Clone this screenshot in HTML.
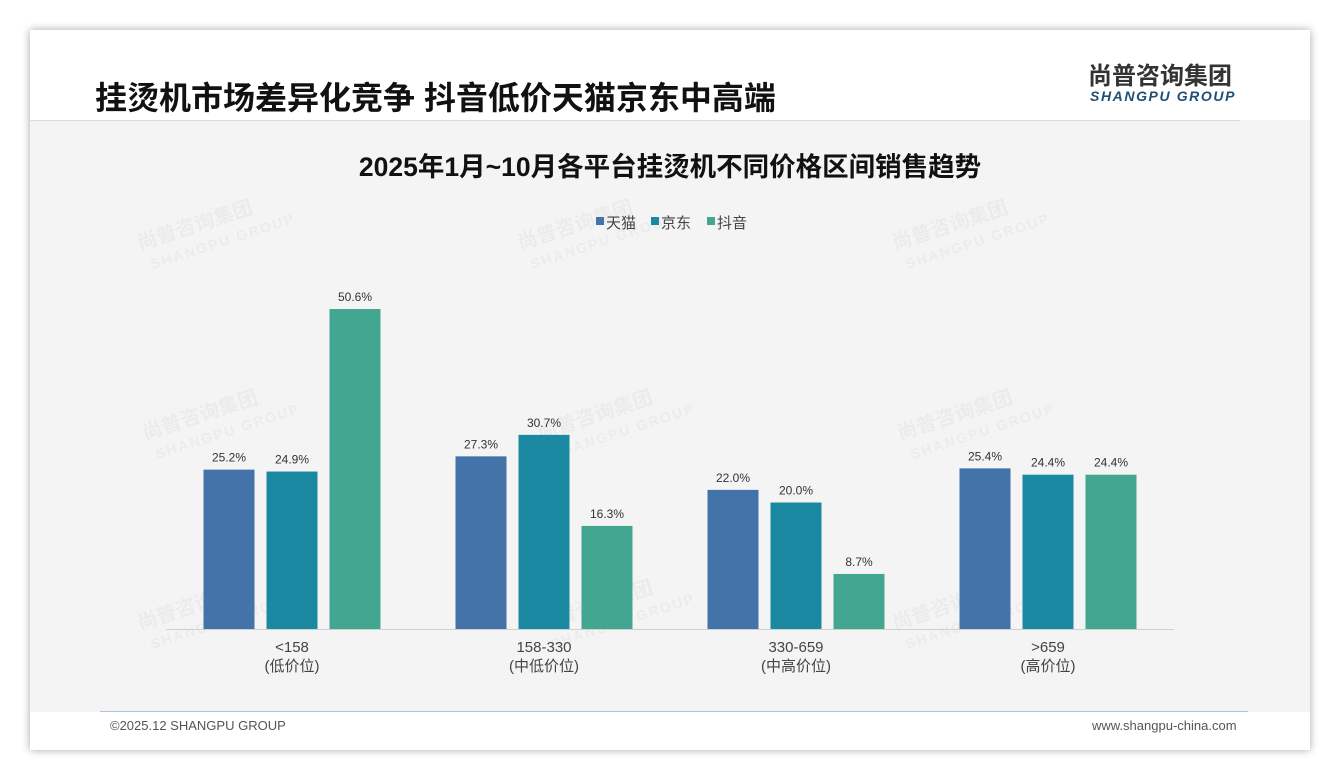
<!DOCTYPE html>
<html><head><meta charset="utf-8">
<style>
body{margin:0;width:1340px;height:780px;background:#fff;font-family:"Liberation Sans","Noto Sans CJK SC",sans-serif;overflow:hidden;position:relative}
.card{position:absolute;left:30px;top:30px;width:1280px;height:720px;background:#fff;box-shadow:0 0 8px rgba(0,0,0,.35)}
.body{position:absolute;left:30px;top:120px;width:1280px;height:592px;background:#f4f4f4}
.title{position:absolute;left:95px;top:78px;font-size:32px;font-weight:bold;color:#111;line-height:40px;white-space:nowrap}
.logo1{position:absolute;left:1088px;top:63px;font-size:24px;font-weight:bold;color:#333;line-height:28px;white-space:nowrap}
.logo2{position:absolute;left:1090px;top:88px;font-size:14px;font-weight:bold;font-style:italic;color:#1e4f78;letter-spacing:1.6px;line-height:16px;white-space:nowrap}
.hline{position:absolute;left:30px;top:120px;width:1210px;height:1px;background:#ddd}
.fline{position:absolute;left:100px;top:711px;width:1148px;height:1px;background:#a9c4dc}
.foot{position:absolute;top:718px;font-size:13px;color:#555}
</style></head><body>
<div class="card"></div>
<div class="body"></div>
<div class="title">挂烫机市场差异化竞争 抖音低价天猫京东中高端</div>
<div class="logo1">尚普咨询集团</div>
<div class="logo2">SHANGPU GROUP</div>
<div class="hline"></div>
<div class="fline"></div>
<div class="foot" style="left:110px">©2025.12 SHANGPU GROUP</div>
<div class="foot" style="left:1092px">www.shangpu-china.com</div>
<svg id="c" width="1340" height="780" style="position:absolute;left:0;top:0"></svg>
<script>
const categories=["<158","158-330","330-659",">659"];
const subLabels=["(低价位)","(中低价位)","(中高价位)","(高价位)"];
const seriesNames=["天猫","京东","抖音"];
const tmall=[25.2,27.3,22.0,25.4];
const jd=[24.9,30.7,20.0,24.4];
const douyin=[50.6,16.3,8.7,24.4];
const colors=["#4373a8","#1a89a1","#42a691"];
const series=[tmall,jd,douyin];
const svg=document.getElementById('c');
const NS="http://www.w3.org/2000/svg";
function mk(t,a,txt){const e=document.createElementNS(NS,t);for(const k in a)e.setAttribute(k,a[k]);if(txt!==undefined)e.textContent=txt;svg.appendChild(e);return e;}
const base=629,left=166,step=252,scale=320/50.6;
const y=v=>base-v*scale;
const xc=i=>left+step*(i+0.5);
let t=mk('text',{x:670,y:176,'text-anchor':'middle','font-size':26.5,'font-weight':'bold',fill:'#111'},'2025年1月~10月各平台挂烫机不同价格区间销售趋势');


[[140,250],[520,250],[895,250],[145,440],[540,440],[900,440],[140,630],[540,630],[895,630]].forEach(p=>{
 const w=mk('text',{x:p[0],y:p[1],transform:`rotate(-18 ${p[0]} ${p[1]})`,'font-size':20,'font-weight':'bold',fill:'#000','fill-opacity':0.035},'尚普咨询集团');
 
 
 const w2=mk('text',{x:p[0]+6,y:p[1]+22,transform:`rotate(-18 ${p[0]} ${p[1]})`,'font-size':14,'font-weight':'bold','letter-spacing':2,fill:'#000','fill-opacity':0.035},'SHANGPU GROUP');
 
 
});
const lx=[596,651,707];
seriesNames.forEach((n,i)=>{
 const r=mk('rect',{x:lx[i],y:217,width:8,height:8,fill:colors[i]});
 
 
 const tx=mk('text',{x:lx[i]+10,y:228,'font-size':15,fill:'#444'},n);
 
 
});
const ax=mk('line',{x1:left,x2:left+step*4,y1:base+0.5,y2:base+0.5,stroke:'#d0d0d0'});


categories.forEach((c,i)=>{
 series.forEach((s,j)=>{
  const x=xc(i)-88.5+j*63;
  const b=mk('rect',{x:x,y:y(s[i]),width:51,height:base-y(s[i]),fill:colors[j]});
  
  
  const l=mk('text',{x:x+25.5,y:y(s[i])-8,'text-anchor':'middle','font-size':12,fill:'#333'},s[i].toFixed(1)+'%');
  
  
 });
 const a=mk('text',{x:xc(i),y:652,'text-anchor':'middle','font-size':15,fill:'#444'},c);
 
 
 const b2=mk('text',{x:xc(i),y:671,'text-anchor':'middle','font-size':15,fill:'#444'},subLabels[i]);
 
 
});
</script>
</body></html>
